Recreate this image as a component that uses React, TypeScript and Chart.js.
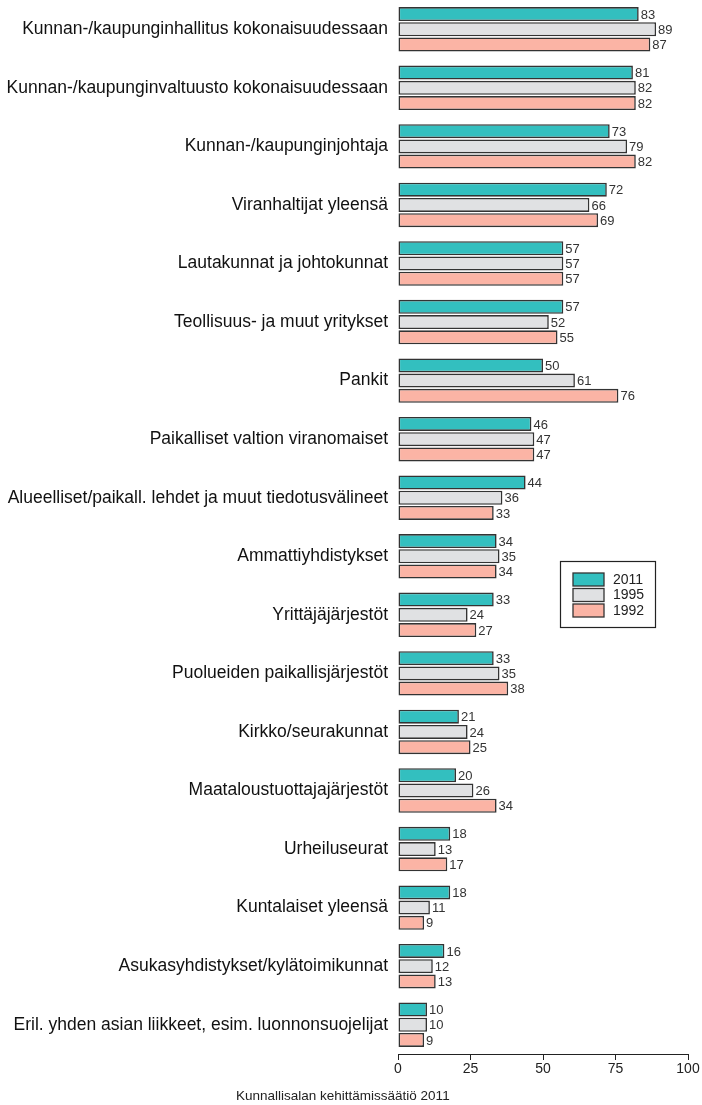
import React, { useEffect, useRef } from "react";
import { Chart, registerables } from "chart.js";

Chart.register(...registerables);

const categories = [
  "Kunnan-/kaupunginhallitus kokonaisuudessaan",
  "Kunnan-/kaupunginvaltuusto kokonaisuudessaan",
  "Kunnan-/kaupunginjohtaja",
  "Viranhaltijat yleensä",
  "Lautakunnat ja johtokunnat",
  "Teollisuus- ja muut yritykset",
  "Pankit",
  "Paikalliset valtion viranomaiset",
  "Alueelliset/paikall. lehdet ja muut tiedotusvälineet",
  "Ammattiyhdistykset",
  "Yrittäjäjärjestöt",
  "Puolueiden paikallisjärjestöt",
  "Kirkko/seurakunnat",
  "Maataloustuottajajärjestöt",
  "Urheiluseurat",
  "Kuntalaiset yleensä",
  "Asukasyhdistykset/kylätoimikunnat",
  "Eril. yhden asian liikkeet, esim. luonnonsuojelijat",
];

const values2011 = [83, 81, 73, 72, 57, 57, 50, 46, 44, 34, 33, 33, 21, 20, 18, 18, 16, 10];
const values1995 = [89, 82, 79, 66, 57, 52, 61, 47, 36, 35, 24, 35, 24, 26, 13, 11, 12, 10];
const values1992 = [87, 82, 82, 69, 57, 55, 76, 47, 33, 34, 27, 38, 25, 34, 17, 9, 13, 9];

const seriesLabels = ["2011", "1995", "1992"];
const xTicks = [0, 25, 50, 75, 100];
const footerText = "Kunnallisalan kehittämissäätiö 2011";

const colors = ["#33bfbf", "#e0e1e3", "#fbb4a5"];
const FONT = "'Liberation Sans', Arial, sans-serif";

const valueLabelPlugin = {
  id: "valueLabels",
  afterDatasetsDraw(chart: any) {
    const ctx = chart.ctx;
    ctx.save();
    ctx.font = `13px ${FONT}`;
    ctx.fillStyle = "#333";
    ctx.textAlign = "left";
    ctx.textBaseline = "middle";
    chart.data.datasets.forEach((ds: any, di: number) => {
      const meta = chart.getDatasetMeta(di);
      meta.data.forEach((bar: any, i: number) => {
        ctx.fillText(String(ds.data[i]), bar.x + 2, bar.y + 1);
      });
    });
    ctx.restore();
  },
};

const legendBoxPlugin = {
  id: "legendBox",
  afterDraw(chart: any) {
    const ctx = chart.ctx;
    const xs = chart.scales.x;
    const ys = chart.scales.y;
    ctx.save();
    const left = Math.round(xs.getPixelForValue(56));
    const right = Math.round(xs.getPixelForValue(88.6));
    const top = Math.round(ys.getPixelForValue(9) + 5);
    const bottom = top + 66;
    ctx.fillStyle = "#fff";
    ctx.fillRect(left, top, right - left, bottom - top);
    ctx.strokeStyle = "#222";
    ctx.lineWidth = 1.2;
    ctx.strokeRect(left + 0.5, top + 0.5, right - left, bottom - top);
    ctx.font = `14px ${FONT}`;
    ctx.textBaseline = "middle";
    seriesLabels.forEach((lab, i) => {
      const y = top + 12 + i * 15.5;
      ctx.fillStyle = colors[i];
      ctx.fillRect(left + 13, y, 31, 13);
      ctx.strokeStyle = "#333";
      ctx.lineWidth = 1.3;
      ctx.strokeRect(left + 13, y, 31, 13);
      ctx.fillStyle = "#222";
      ctx.fillText(lab, left + 53, y + 7);
    });
    ctx.restore();
  },
};

const footerPlugin = {
  id: "footerText",
  afterDraw(chart: any) {
    const ctx = chart.ctx;
    ctx.save();
    ctx.font = `13.5px ${FONT}`;
    ctx.fillStyle = "#222";
    ctx.textAlign = "left";
    ctx.textBaseline = "middle";
    ctx.fillText(footerText, 236, 1096);
    ctx.restore();
  },
};

export default function App() {
  const ref = useRef<HTMLCanvasElement>(null);
  useEffect(() => {
    document.body.style.margin = "0";
    const chart = new Chart(ref.current as HTMLCanvasElement, {
      type: "bar",
      data: {
        labels: categories,
        datasets: [values2011, values1995, values1992].map((d, i) => ({
          label: seriesLabels[i],
          data: d,
          backgroundColor: colors[i],
          borderColor: "#333",
          borderWidth: 1.6,
          borderSkipped: false,
          categoryPercentage: 0.78,
          barPercentage: 0.92,
        })),
      },
      options: {
        indexAxis: "y",
        animation: false,
        responsive: false,
        maintainAspectRatio: false,
        layout: { padding: { top: 0, right: 14, bottom: 0, left: 0 } },
        plugins: {
          legend: { display: false },
          tooltip: { enabled: false },
        },
        scales: {
          x: {
            min: 0,
            max: 100,
            afterBuildTicks: (scale: any) => {
              scale.ticks = xTicks.map((v) => ({ value: v }));
            },
            afterFit: (scale: any) => {
              scale.height = 51;
              scale.paddingRight = 0;
              scale.paddingLeft = 0;
            },
            grid: {
              display: true,
              drawOnChartArea: false,
              drawTicks: true,
              tickLength: 6,
              color: "#222",
              lineWidth: 1,
            },
            border: { display: true, color: "#222", width: 1 },
            ticks: {
              font: { size: 14, family: FONT },
              color: "#222",
              padding: 1,
              maxRotation: 0,
            },
          },
          y: {
            grid: { display: false, drawTicks: false },
            border: { display: false },
            afterFit: (scale: any) => {
              scale.width = 398;
              scale.paddingTop = 0;
              scale.paddingBottom = 0;
            },
            ticks: {
              font: { size: 17.5, family: FONT },
              color: "#111",
              padding: 10,
              autoSkip: false,
            },
          },
        },
      },
      plugins: [valueLabelPlugin, legendBoxPlugin, footerPlugin],
    } as any);
    return () => chart.destroy();
  }, []);
  return (
    <div style={{ width: 702, height: 1105 }}>
      <canvas ref={ref} width={702} height={1105} style={{ display: "block" }} />
    </div>
  );
}
